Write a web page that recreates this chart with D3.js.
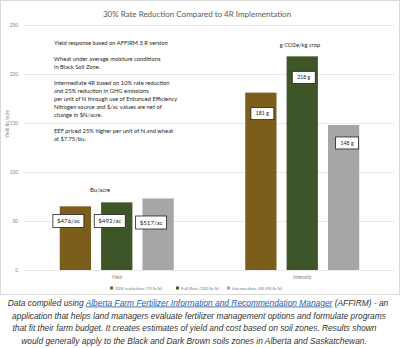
<!DOCTYPE html>
<html><head><meta charset="utf-8">
<script src="https://cdn.jsdelivr.net/npm/d3@7"></script>
<style>body{margin:0;background:#fff}svg{display:block}</style>
</head><body><svg id="c" width="400" height="348"></svg>
<script>
const categories = ["Yield", "Intensity"];
const seriesNames = ["30% reduction (70 lb N)", "Full Rate  (100 lb N)", "Intermediate 4R (90 lb N)"];
const yieldValues = [65, 69, 73];
const intensityValues = [181, 218, 148];
const yieldLabels = ["$476/ac", "$492/ac", "$517/ac"];
const intensityLabels = ["181 g", "218 g", "148 g"];
const yTicks = [0, 50, 100, 150, 200, 250];
const colors = ["#7b5e1c", "#3e5527", "#a6a6a6"];
const notes = [
  ["Yield response based on AFFIRM 3 R version"],
  ["Wheat under average moisture conditions", "in Black Soil Zone."],
  ["Intermediate 4R based on 10% rate reduction", "and 25% reduction in GHG emissions",
   "per unit of N through use of Enhanced Efficiency", "Nitrogen source and $/ac values are net of", "change in $N/acre."],
  ["EEF priced 25% higher per unit of N and wheat", " at $7.75/bu."]
];
const caption = [
  "application that helps land managers evaluate fertilizer management options and formulate programs",
  "that fit their farm budget. It creates estimates of yield and cost based on soil zones. Results shown",
  "would generally apply to the Black and Dark Brown soils zones in Alberta and Saskatchewan."
];

const svg = d3.select("#c");
const F = "Lato, 'Open Sans', sans-serif";
svg.append("rect").attr("x",0.5).attr("y",0.5).attr("width",399).attr("height",294)
  .attr("fill","#fff").attr("stroke","#d9d9d9");

const x0 = d3.scaleBand().domain(categories).range([24, 395]);
const x1 = d3.scaleBand().domain([0,1,2]).range([-57, 57]).paddingInner(0.244);
const y = d3.scaleLinear().domain([0, 250]).range([270, 25]);

svg.append("text").attr("x", 197).attr("y", 17).attr("text-anchor","middle")
  .attr("font-family",F).attr("font-size",8).attr("fill","#595959")
  .text("30% Rate Reduction Compared to 4R Implementation");

// grid
const yAxis = d3.axisLeft(y).tickValues(yTicks).tickSize(-(395-24)).tickPadding(6);
const ga = svg.append("g").attr("transform","translate(24,0)").call(yAxis);
ga.select(".domain").remove();
ga.selectAll(".tick line").attr("stroke","#e3e3e3").attr("stroke-width",0.8);
ga.selectAll(".tick text").attr("font-family",F).attr("font-size",4.8).attr("fill","#7f7f7f");

svg.append("text").attr("transform","translate(9,124) rotate(-90)").attr("text-anchor","middle")
  .attr("font-family",F).attr("font-size",4.8).attr("fill","#7f7f7f").text("Yield bu/acre");

const groups = [yieldValues, intensityValues];
categories.forEach((cat, gi) => {
  const cx = x0(cat) + x0.bandwidth()/2;
  groups[gi].forEach((v, i) => {
    svg.append("rect").attr("x", cx + x1(i)).attr("width", x1.bandwidth())
      .attr("y", y(v)).attr("height", y(0) - y(v)).attr("fill", colors[i]);
  });
  svg.append("text").attr("x", cx).attr("y", 279).attr("text-anchor","middle")
    .attr("font-family",F).attr("font-size",4.8).attr("fill","#7f7f7f").text(cat);
});

// data labels
function box(cx, cy, w, h, t, fs) {
  svg.append("rect").attr("x", cx - w/2).attr("y", cy - h/2).attr("width", w).attr("height", h)
    .attr("fill","#fff").attr("stroke","#222").attr("stroke-width",0.8);
  svg.append("text").attr("x", cx).attr("y", cy + fs*0.36).attr("text-anchor","middle")
    .attr("font-family",F).attr("font-size",fs).attr("fill","#222").text(t);
}
const yc = x0("Yield") + x0.bandwidth()/2;
const ic = x0("Intensity") + x0.bandwidth()/2;
yieldLabels.forEach((t,i) => {
  box(yc + x1(i) + x1.bandwidth()/2 - 7, y(50) + (i===2?1.5:0), 31, 13, t, 6.2);
});
intensityLabels.forEach((t,i) => {
  box(ic + x1(i) + x1.bandwidth()/2 + 1.5 + (i===2?2:0), y(intensityValues[i]) + 21 - (i===2?3:0), 23, 12, t, 5.2);
});

svg.append("text").attr("x", 100).attr("y", 192).attr("text-anchor","middle")
  .attr("font-family",F).attr("font-size",5.8).attr("fill","#262626").text("Bu/acre");
svg.append("text").attr("x", 300).attr("y", 47).attr("text-anchor","middle")
  .attr("font-family",F).attr("font-size",5.8).attr("fill","#262626").text("g CO2e/kg crop");

// notes
let ny = 45;
notes.forEach((para) => {
  para.forEach(line => {
    svg.append("text").attr("x", 54).attr("y", ny).attr("font-family",F).attr("font-size",5.8)
      .attr("fill","#262626").text(line);
    ny += 8;
  });
  ny += 8;
});

// legend
const lx = [110, 176, 227];
seriesNames.forEach((s,i) => {
  svg.append("rect").attr("x", lx[i]).attr("y", 286.5).attr("width",3).attr("height",3).attr("fill",colors[i]);
  svg.append("text").attr("x", lx[i]+5).attr("y", 289.6).attr("font-family",F).attr("font-size",4.5)
    .attr("fill","#7f7f7f").text(s);
});

// caption
const CF = "'Liberation Sans', Arial, sans-serif";
const t1 = svg.append("text").attr("x", 198).attr("y", 305.5).attr("text-anchor","middle")
  .attr("font-family",CF).attr("font-size",8.4).attr("font-style","italic").attr("fill","#333");
t1.append("tspan").text("Data compiled using ");
t1.append("tspan").attr("fill","#2a5db0").attr("text-decoration","underline")
  .text("Alberta Farm Fertilizer Information and Recommendation Manager");
t1.append("tspan").attr("fill","#333").text(" (AFFIRM) - an");
const ccx = [199, 194.5, 194], cy0 = [318.5, 331, 343.5];
caption.forEach((l,i) => {
  svg.append("text").attr("x", ccx[i]).attr("y", cy0[i]).attr("text-anchor","middle")
    .attr("font-family",CF).attr("font-size",8.4).attr("font-style","italic").attr("fill","#333").text(l);
});
</script></body></html>
